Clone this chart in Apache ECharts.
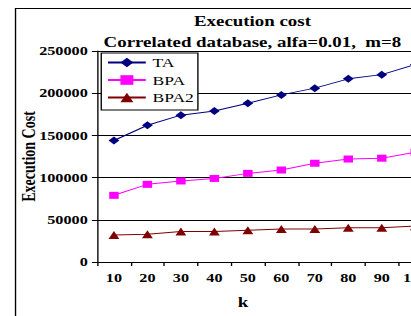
<!DOCTYPE html>
<html>
<head>
<meta charset="utf-8">
<script src="https://cdn.jsdelivr.net/npm/echarts@6/dist/echarts.min.js"></script>
<style>
  html, body { margin: 0; padding: 0; width: 411px; height: 316px; overflow: hidden; background: #fff; }
  /* the source picture is stretched sideways, so the chart is drawn narrow and widened */
  #chart { width: 340px; height: 316px; transform: scaleX(1.35); transform-origin: 0 0; }
</style>
</head>
<body>
<div id="chart"></div>
<script>
  // k values on the x axis
  var kLabels = ['10', '20', '30', '40', '50', '60', '70', '80', '90', '100'];
  // execution cost per method
  var taCost = [144000, 162000, 174000, 179000, 188000, 198000, 206000, 217000, 222000, 234000];
  var bpaCost = [79000, 92000, 96000, 99000, 105000, 109000, 117000, 122000, 123000, 130000];
  var bpa2Cost = [32000, 33000, 36000, 36000, 37500, 39000, 39000, 40500, 40500, 42500];
  var costTicks = [0, 50000, 100000, 150000, 200000, 250000];

  var serif = 'Liberation Serif';

  var option = {
    animation: false,
    backgroundColor: '#fff',
    textStyle: { fontFamily: serif },
    title: [
      {
        text: 'Execution cost',
        left: 187, top: 14, padding: 0, textAlign: 'center',
        textStyle: { fontFamily: serif, fontSize: 14, fontWeight: 'bold', color: '#000' }
      },
      {
        text: 'Correlated database, alfa=0.01,  m=8',
        left: 187, top: 35, padding: 0, textAlign: 'center',
        textStyle: { fontFamily: serif, fontSize: 14, fontWeight: 'bold', color: '#000' }
      }
    ],
    // outer frame of the chart area
    graphic: [
      {
        type: 'rect', left: 9, top: 6, silent: true,
        shape: { width: 400, height: 400 },
        style: { fill: 'none', stroke: '#000', lineWidth: 1 }
      }
    ],
    legend: {
      orient: 'vertical',
      left: 75, top: 53,
      padding: [3, 3, 6, 4],
      itemWidth: 28, itemHeight: 12, itemGap: 4.5,
      backgroundColor: '#fff',
      borderColor: '#000', borderWidth: 1,
      textStyle: { fontFamily: serif, fontSize: 13, color: '#000' },
      data: ['TA', 'BPA', 'BPA2']
    },
    grid: { left: 72, top: 51, bottom: 54, right: 20, containLabel: false, outerBoundsMode: 'none' },
    xAxis: {
      type: 'category',
      data: kLabels,
      boundaryGap: true,
      name: 'k',
      nameLocation: 'middle',
      nameGap: 33,
      nameMoveOverlap: false,
      nameTextStyle: { fontFamily: serif, fontSize: 14, fontWeight: 'bold', color: '#000', padding: [0, 32, 0, 0] },
      axisLine: { lineStyle: { color: '#000', width: 1 } },
      axisTick: { show: true, length: 4, lineStyle: { color: '#000' } },
      axisLabel: { margin: 10, fontFamily: serif, fontSize: 12, fontWeight: 'bold', color: '#000' }
    },
    yAxis: {
      type: 'value',
      min: costTicks[0],
      max: costTicks[costTicks.length - 1],
      interval: 50000,
      name: 'Execution Cost',
      nameLocation: 'middle',
      nameGap: 44,
      nameMoveOverlap: false,
      nameTextStyle: { fontFamily: serif, fontSize: 14, fontWeight: 'bold', color: '#000' },
      axisLine: { show: true, lineStyle: { color: '#000', width: 1 } },
      axisTick: { show: true, length: 4, lineStyle: { color: '#000' } },
      axisLabel: {
        margin: 7, fontFamily: serif, fontSize: 12, fontWeight: 'bold', color: '#000',
        formatter: function (v) { return String(v); }
      },
      splitLine: { show: true, lineStyle: { color: '#000', width: 1 } }
    },
    series: [
      {
        name: 'TA', type: 'line', data: taCost,
        symbol: 'diamond', symbolSize: 8,
        itemStyle: { color: '#000080' },
        lineStyle: { color: '#000080', width: 1 }
      },
      {
        name: 'BPA', type: 'line', data: bpaCost,
        symbol: 'rect', symbolSize: 7,
        itemStyle: { color: '#ff00ff' },
        lineStyle: { color: '#ff00ff', width: 1 }
      },
      {
        name: 'BPA2', type: 'line', data: bpa2Cost,
        symbol: 'triangle', symbolSize: 8,
        itemStyle: { color: '#800000' },
        lineStyle: { color: '#800000', width: 1 }
      }
    ]
  };

  var myChart = echarts.init(document.getElementById('chart'), null, { renderer: 'svg' });
  myChart.setOption(option);
</script>
</body>
</html>
